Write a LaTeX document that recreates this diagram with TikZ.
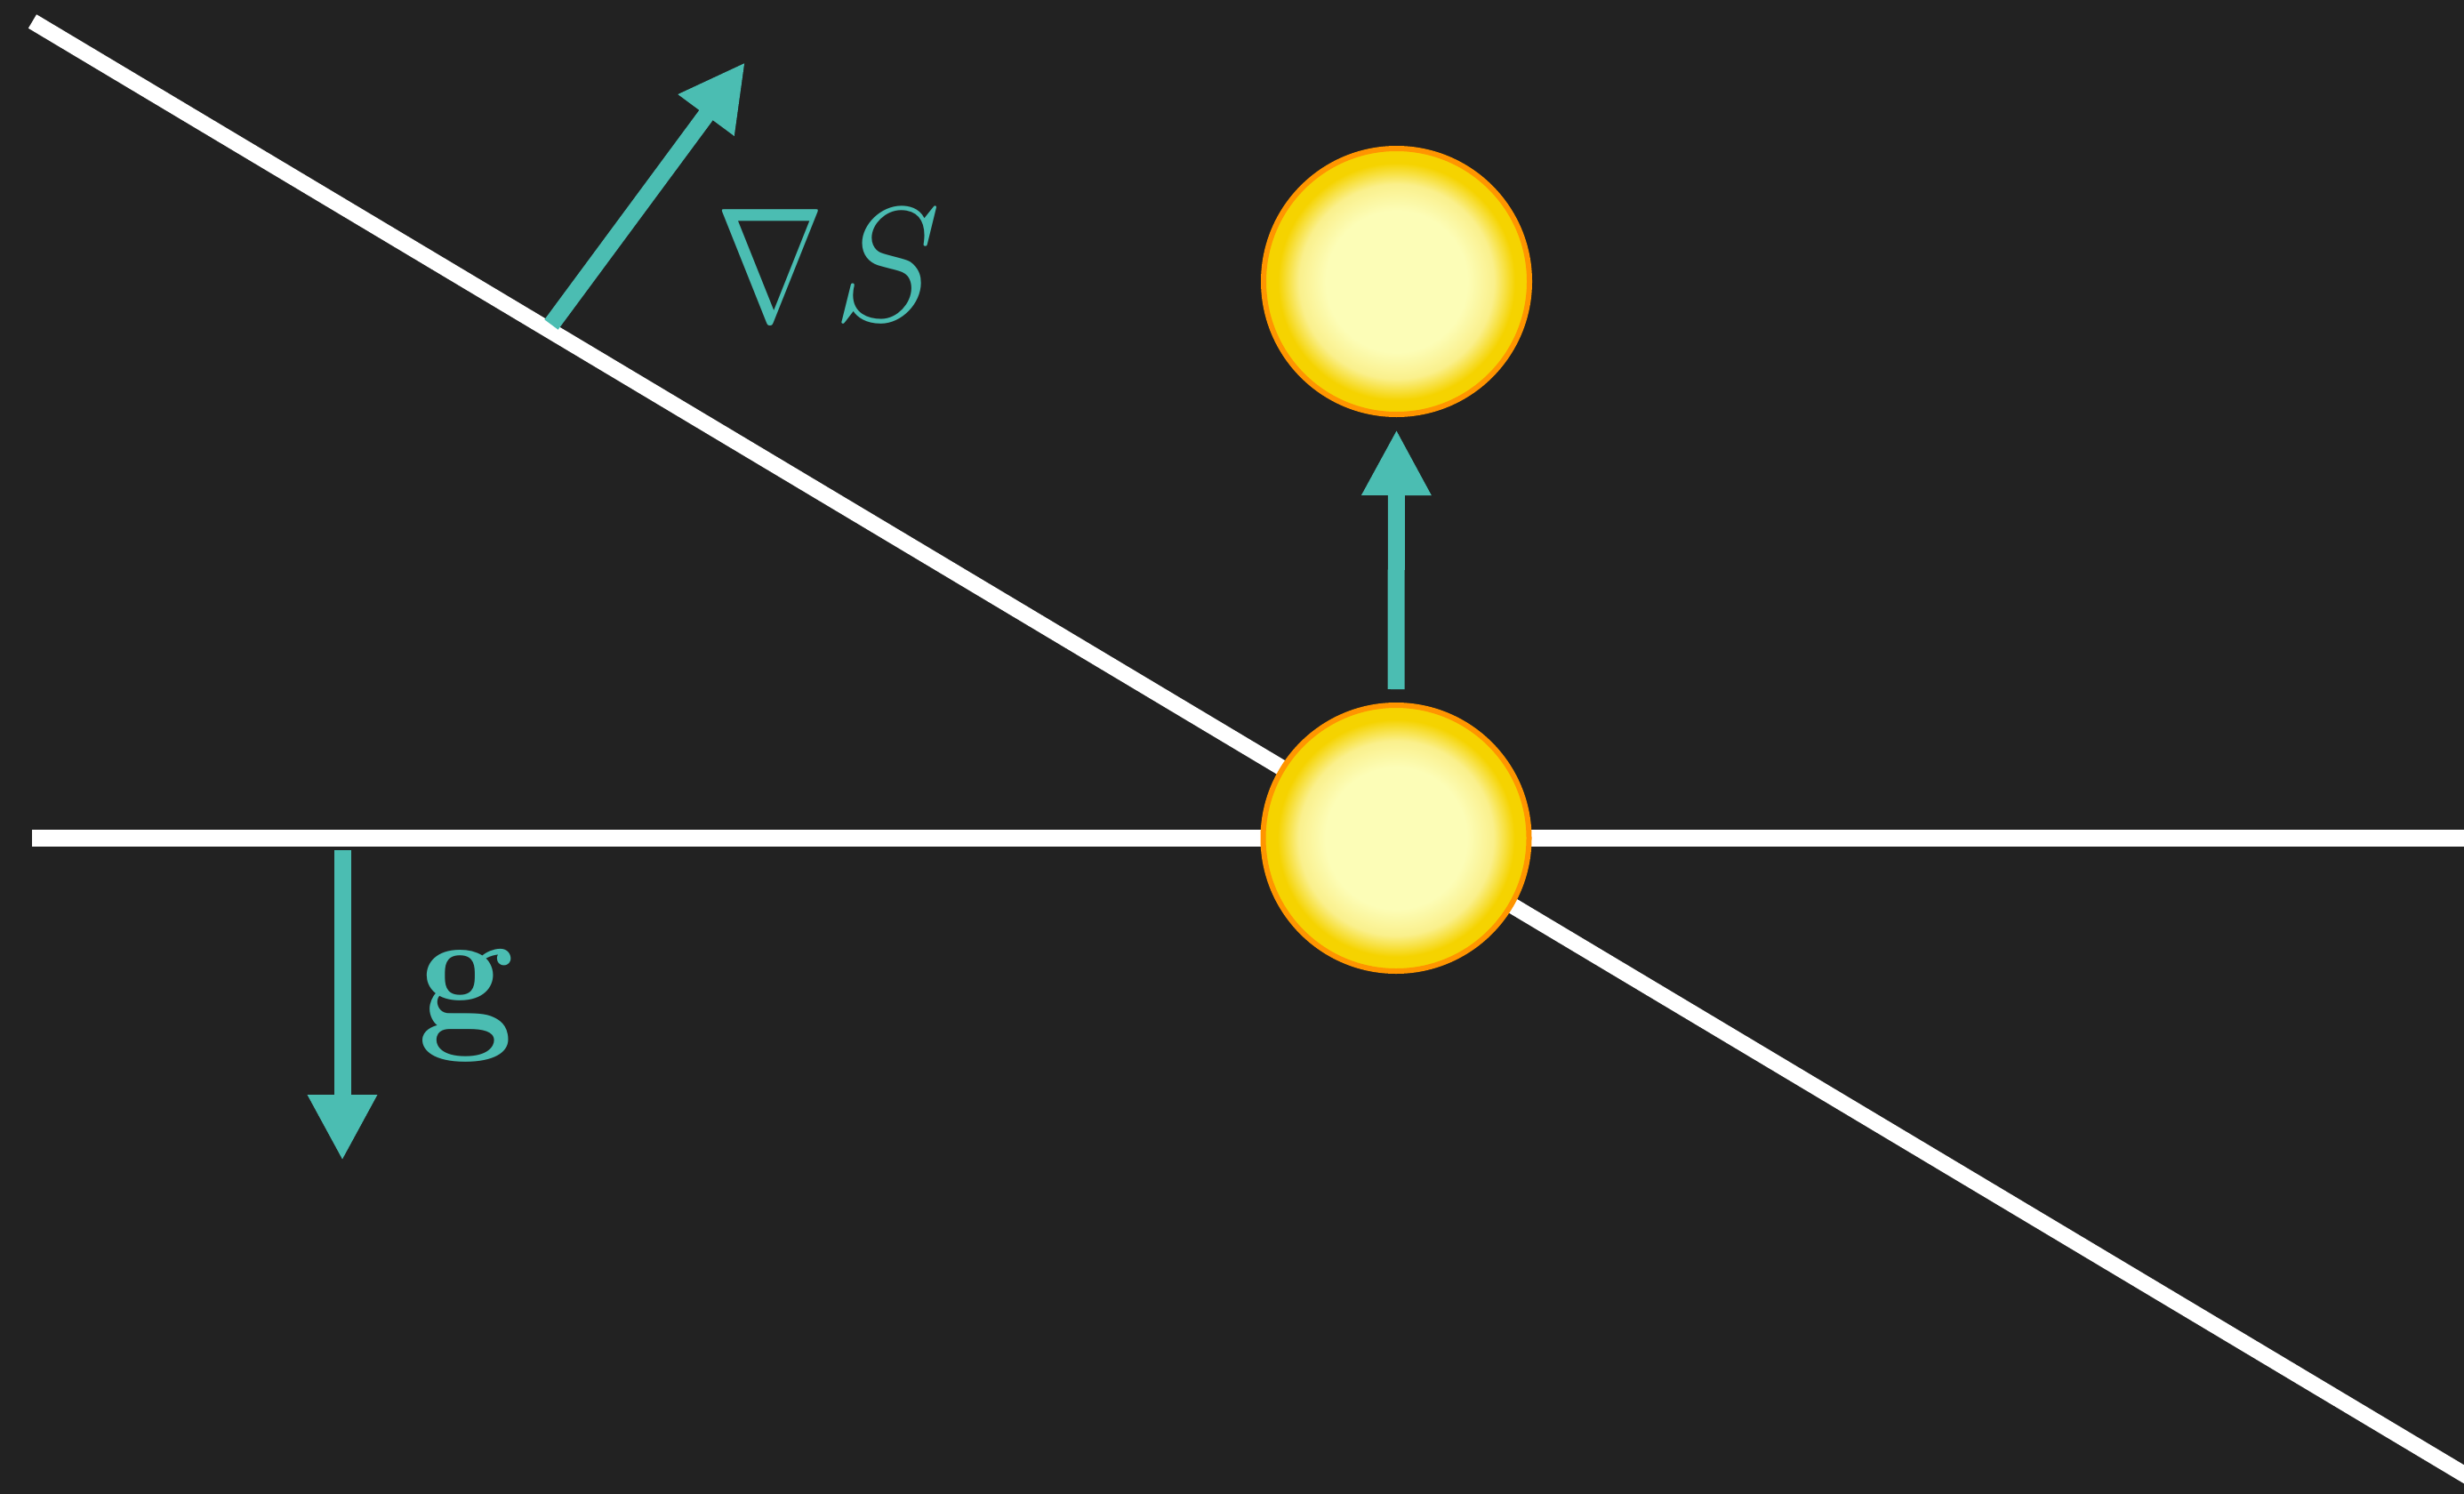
\RequirePackage{fix-cm}
\documentclass[tikz,border=0pt]{standalone}
\usetikzlibrary{arrows.meta}
\definecolor{bg}{RGB}{34,34,34}
\definecolor{vecteal}{RGB}{75,189,178}
\definecolor{ballcore}{RGB}{252,253,183}
\definecolor{ballmid}{RGB}{250,240,140}
\definecolor{ballyellow}{RGB}{245,211,0}
\definecolor{ballrim}{RGB}{255,149,0}
\pgfdeclareradialshading{ballshade}{\pgfpointorigin}{color(0bp)=(ballcore); color(13.3bp)=(ballcore); color(18.3bp)=(ballmid); color(22.3bp)=(ballyellow); color(50bp)=(ballyellow)}
\tikzset{
  surface/.style={draw=white, line width=0.18cm},
  vec/.style={draw=vecteal, line width=0.19cm, -{Triangle[length=0.74cm,width=0.73cm]}},
  ball/.style={circle, minimum size=2.99cm, inner sep=0pt, draw=ballrim, line width=0.06cm, shading=ballshade},
  lbl/.style={text=vecteal, inner sep=0pt}
}
\begin{document}
\begin{tikzpicture}
  \useasboundingbox (0,0) rectangle (27.71,-16.80);
  \fill[bg] (0,0) rectangle (27.71,-16.80);
  \clip (0,0) rectangle (27.71,-16.80);
  % surfaces
  \coordinate (slopeA) at (0.365,-0.24);
  \coordinate (slopeB) at (28.5,-17.05);
  \coordinate (flatA) at (0.36,-9.42);
  \coordinate (flatB) at (27.8,-9.42);
  \draw[surface] (slopeA) -- (slopeB);
  \draw[surface, line width=0.19cm] (flatA) -- (flatB);
  % vectors
  \coordinate (gradtail) at (6.20,-3.65);
  \coordinate (gradtip) at (8.38,-0.70);
  \draw[vec] (gradtail) -- (gradtip);
  \coordinate (gtop) at (3.85,-9.56);
  \coordinate (gbot) at (3.85,-13.05);
  \draw[vec] (gtop) -- (gbot);
  % balls
  \node[ball] (top) at (15.705,-3.165) {};
  \node[ball] (bot) at (15.70,-9.425) {};
  \draw[vec] ([yshift=0.15cm]bot.north) -- ([yshift=-0.14cm]top.south);
  % labels
  \node[lbl, font=\fontsize{52}{60}\selectfont] (gradlabel) at (9.32,-2.98) {$\scalebox{0.8}[1]{$\nabla$}\mkern1mu S$};
  \node[lbl, font=\fontsize{55}{64}\selectfont] (glabel) at (5.25,-11.31) {$\mathbf{g}$};
\end{tikzpicture}
\end{document}
